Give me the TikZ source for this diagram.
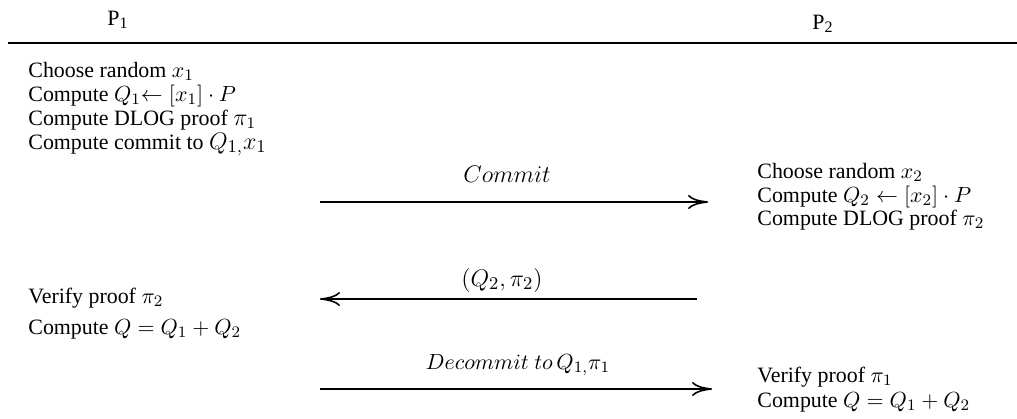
\documentclass[tikz,border=0pt]{standalone}
\usepackage{fontspec}
\setmainfont{Liberation Serif}
\usetikzlibrary{arrows.meta}
\tikzset{
  %% party header
  hdr/.style={anchor=base,inner sep=0pt,font=\fontsize{10.95}{13.6}\selectfont},
  %% one protocol step
  stp/.style={anchor=base west,inner sep=0pt,font=\fontsize{10.95}{13.6}\selectfont},
  %% message label
  mlbl/.style={anchor=base,inner sep=0pt,font=\fontsize{10.95}{13.6}\selectfont},
  %% larger message label
  blbl/.style={mlbl,font=\fontsize{13}{16}\selectfont},
  %% message arrow
  msg/.style={-{To[length=10pt,width=7pt]},line width=0.8pt},
  %% header rule
  rle/.style={line width=1pt},
}

\begin{document}
\begin{tikzpicture}[x=0.5pt,y=-0.5pt]
  \useasboundingbox (0,0) rectangle (1017,418);

  %% parties
  \node[hdr] (p1) at (118,25) {P\textsubscript{1}};
  \node[hdr] (p2) at (823,29) {P\textsubscript{2}};
  \coordinate (rl) at (8,43);
  \coordinate (rr) at (1017,43);
  \draw[rle] (rl) -- (rr);

  %% P1 first round
  \node[stp] (a1) at (28,77)  {Choose random $x_1$};
  \node[stp] (a2) at (28,101) {Compute $Q_1$$\leftarrow [x_1]\cdot P$};
  \node[stp] (a3) at (28,125) {Compute DLOG proof {\large$\pi_1$}};
  \node[stp] (a4) at (28,149) {Compute commit to {\fontsize{13}{16}\selectfont$Q_{1,}x_1$}};

  %% P2 answer
  \node[stp] (b1) at (757,178) {Choose random $x_2$};
  \node[stp] (b2) at (757,202) {Compute $Q_2 \leftarrow [x_2]\cdot P$};
  \node[stp] (b3) at (757,225) {Compute DLOG proof $\pi_2$};

  %% P1 check
  \node[stp] (c1) at (28,303) {Verify proof $\pi_2$};
  \node[stp] (c2) at (28,334) {Compute $Q = Q_1 + Q_2$};

  %% P2 check
  \node[stp] (d1) at (757,382) {Verify proof $\pi_1$};
  \node[stp] (d2) at (757,407) {Compute $Q = Q_1 + Q_2$};

  %% messages
  \coordinate (m1s) at (320,202);
  \coordinate (m1e) at (708,202);
  \coordinate (m2s) at (697,299);
  \coordinate (m2e) at (320,299);
  \coordinate (m3s) at (320,389);
  \coordinate (m3e) at (712,389);
  \node[blbl] (l1) at (507,182) {$Commit$};
  \node[blbl] (l2) at (502,286) {$(Q_2,\pi_2)$};
  \node[mlbl] (l3) at (518,369) {$Decommit\ to\,Q_{1,}\pi_1$};
  \draw[msg] (m1s) -- (m1e);
  \draw[msg] (m2s) -- (m2e);
  \draw[msg] (m3s) -- (m3e);
\end{tikzpicture}
\end{document}
